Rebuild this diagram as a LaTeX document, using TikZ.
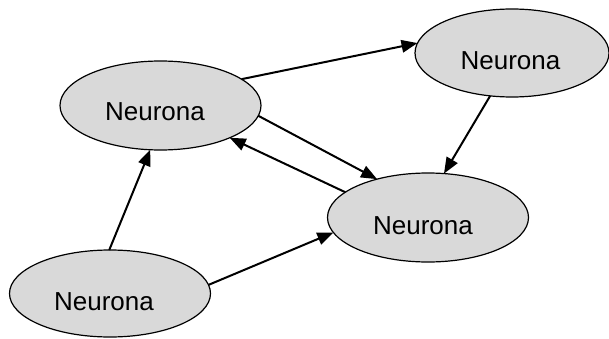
\documentclass[tikz,border=0pt]{standalone}
\usepackage{fontspec}
\setmainfont{Liberation Sans}
\usetikzlibrary{arrows.meta,shapes.geometric}
\definecolor{cellgray}{HTML}{D9D9D9}
\tikzset{
  neuron/.style={ellipse, draw=black, line width=1.2pt, fill=cellgray,
    inner sep=0pt, outer sep=0pt, minimum width=201pt, minimum height=89pt},
  caption/.style={inner sep=0pt, font=\fontsize{26}{30}\selectfont},
  link/.style={line width=2pt, -{Triangle[length=16pt,width=12.5pt]}}
}
\begin{document}
\begin{tikzpicture}[x=1pt,y=1pt]
  \useasboundingbox (0,0) rectangle (609,338);
  % cells
  \node[neuron] (A) at (160.5,232.5) {};
  \node[neuron, minimum width=194pt, minimum height=88pt] (B) at (512,285) {};
  \node[neuron] (C) at (428,120.5) {};
  \node[neuron, minimum height=87pt] (D) at (110,44.5) {};
  % labels
  \node[caption] (tA) at (155,226) {Neurona};
  \node[caption] (tB) at (510.5,277.5) {Neurona};
  \node[caption] (tC) at (423,112.5) {Neurona};
  \node[caption] (tD) at (104,36) {Neurona};
  % connections
  \draw[link] (A.18) -- (B.174);
  \draw[link] (A.-6.5) -- (C.143);
  \draw[link] (C.163.6) -- (A.-25.8);
  \draw[link] (B.-117.6) -- (C.70.4);
  \draw[link] (D.91.3) -- (A.-103.9);
  \draw[link] (D.5.9) -- (C.189.6);
\end{tikzpicture}
\end{document}
